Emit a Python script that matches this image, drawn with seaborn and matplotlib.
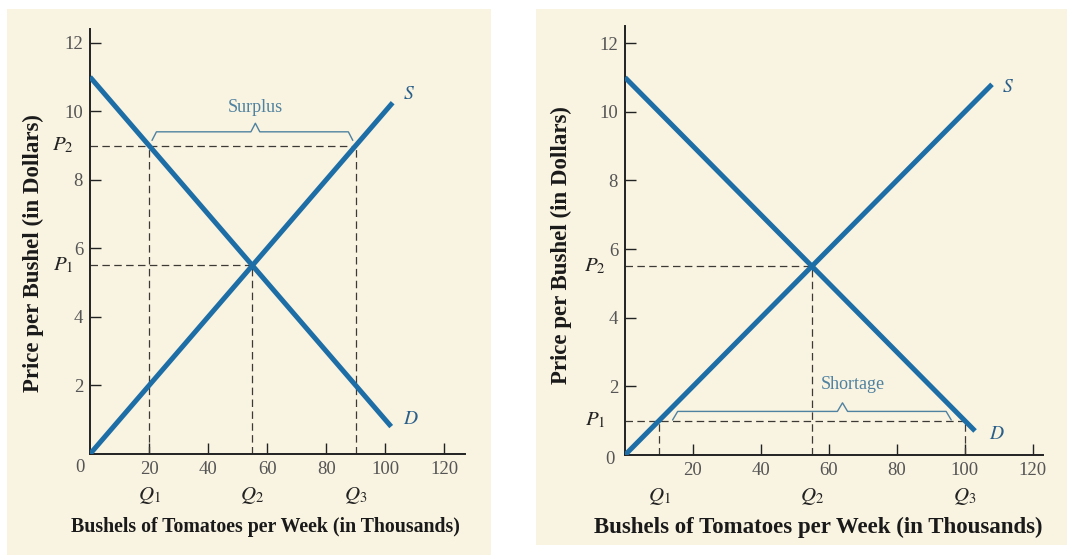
import numpy as np
import pandas as pd
import matplotlib
matplotlib.use("Agg")
import matplotlib.pyplot as plt
from matplotlib.patches import Rectangle
import seaborn as sns

# --- data ---
# left panel: price above equilibrium -> surplus
left_supply_q = [0, 102.5]
left_supply_p = [0, 10.25]
left_demand_q = [0, 102.0]
left_demand_p = [11.0, 0.8]
left_p_levels = [5.5, 9.0]          # P1, P2
left_p_reach = [55, 90]
left_q_marks = [20, 55, 90]         # Q1, Q2, Q3
left_q_heights = [9.0, 5.5, 9.0]
left_brace = [21, 89, 56, 9.4]      # start, end, tip, level

# right panel: price below equilibrium -> shortage
right_supply_q = [0, 108]
right_supply_p = [0, 10.8]
right_demand_q = [0, 103]
right_demand_p = [11.0, 0.7]
right_p_levels = [1.0, 5.5]         # P1, P2
right_p_reach = [100, 55]
right_q_marks = [10, 55, 100]
right_q_heights = [1.0, 5.5, 1.0]
right_brace = [14, 96, 64, 1.27]

x_ticks = [20, 40, 60, 80, 100, 120]
y_ticks = [2, 4, 6, 8, 10, 12]

BLUE = "#1d6ea6"
NOTE = "#4f82a0"
PAPER = "#f9f3e1"

sns.set_style("ticks")
plt.rcParams["font.family"] = ["Liberation Serif", "DejaVu Serif"]
plt.rcParams["mathtext.fontset"] = "stix"

fig = plt.figure(figsize=(10.67, 5.55), dpi=100, facecolor="white")
W, H = 1067, 555


def px_rect(x0, y0, x1, y1):
    return [x0 / W, 1 - y1 / H, (x1 - x0) / W, (y1 - y0) / H]


for r in (px_rect(7, 9, 491, 555), px_rect(536, 9, 1067, 545)):
    fig.add_artist(Rectangle((r[0], r[1]), r[2], r[3], transform=fig.transFigure,
                             facecolor=PAPER, edgecolor="none", zorder=-1))


def brace(ax, spec, drop):
    a, b, tip, lvl = spec
    xs = [a, a + 1.5, tip - 1.5, tip, tip + 1.5, b - 1.5, b]
    ys = [lvl - drop, lvl, lvl, lvl + 0.25, lvl, lvl, lvl - drop]
    ax.plot(xs, ys, color=NOTE, lw=1.0, zorder=2)


def panel(ax, sq, sp, dq, dp, plev, preach, qmarks, qh, br, note, note_xy,
          xmax, ymax, plabels, s_xy, d_xy, zero_xy, xlab_size, ylab_size,
          xlab_xy, ylab_xy, tick_size):
    df = pd.DataFrame({
        "q": sq + dq,
        "p": sp + dp,
        "curve": ["S"] * len(sq) + ["D"] * len(dq),
    })
    sns.lineplot(data=df, x="q", y="p", units="curve", estimator=None,
                 color=BLUE, lw=3.6, ax=ax, zorder=3, solid_capstyle="butt")

    dash = (0, (6, 3.5))
    ax.hlines(plev, 0, preach, colors="#3d3a36", lw=0.9, linestyles=dash, zorder=1)
    ax.vlines(qmarks, 0, qh, colors="#3d3a36", lw=0.9, linestyles=dash, zorder=1)
    brace(ax, br, 0.25)
    ax.text(note_xy[0], note_xy[1], note, color=NOTE, fontsize=13,
            ha="center", va="center")

    ax.text(s_xy[0], s_xy[1], "$S$", color="#2a5f8a", fontsize=14, ha="left", va="center")
    ax.text(d_xy[0], d_xy[1], "$D$", color="#2a5f8a", fontsize=14, ha="left", va="center")

    for q, name in zip(qmarks, ["$Q_1$", "$Q_2$", "$Q_3$"]):
        ax.text(q, -1.2, name, color="#222222", fontsize=15, ha="center", va="center")
    for p, name in zip(plev, plabels):
        ax.text(-xmax * 0.072, p, name, color="#222222", fontsize=15,
                ha="center", va="center")
    ax.text(zero_xy[0], zero_xy[1], "0", color="#555555", fontsize=tick_size,
            ha="center", va="center")

    ax.set_xlim(0, xmax)
    ax.set_ylim(0, ymax)
    ax.set_xticks(x_ticks)
    ax.set_yticks(y_ticks)
    ax.tick_params(direction="in", length=8, width=1.0, color="#222222",
                   labelsize=tick_size, labelcolor="#555555", pad=5)
    ax.set_facecolor("none")
    sns.despine(ax=ax)
    for s in ("left", "bottom"):
        ax.spines[s].set_color("#222222")
        ax.spines[s].set_linewidth(1.4)

    ax.set_xlabel("Bushels of Tomatoes per Week (in Thousands)",
                  fontsize=xlab_size, fontweight="bold", color="#1a1a1a", va="center")
    ax.set_ylabel("Price per Bushel (in Dollars)",
                  fontsize=ylab_size, fontweight="bold", color="#1a1a1a", va="center")
    ax.xaxis.set_label_coords(*xlab_xy)
    ax.yaxis.set_label_coords(*ylab_xy)


ax1 = fig.add_axes([90 / W, (555 - 454) / H, 375 / W, 425 / H])
panel(ax1, left_supply_q, left_supply_p, left_demand_q, left_demand_p,
      left_p_levels, left_p_reach, left_q_marks, left_q_heights,
      left_brace, "Surplus", (56, 10.1), 127, 12.4,
      ["$P_1$", "$P_2$"], (106, 10.5), (106, 1.0), (-3.4, -0.4),
      14.3, 16.5, (0.467, -0.172), (-0.152, 0.473), 13.5)

ax2 = fig.add_axes([625 / W, (555 - 455) / H, 418 / W, 429 / H])
panel(ax2, right_supply_q, right_supply_p, right_demand_q, right_demand_p,
      right_p_levels, right_p_reach, right_q_marks, right_q_heights,
      right_brace, "Shortage", (67, 2.05), 123, 12.5,
      ["$P_1$", "$P_2$"], (111, 10.7), (107, 0.6), (-4.4, -0.12),
      16.5, 16.5, (0.462, -0.168), (-0.151, 0.49), 13.5)

fig.savefig("out.png", dpi=100, facecolor="white")
